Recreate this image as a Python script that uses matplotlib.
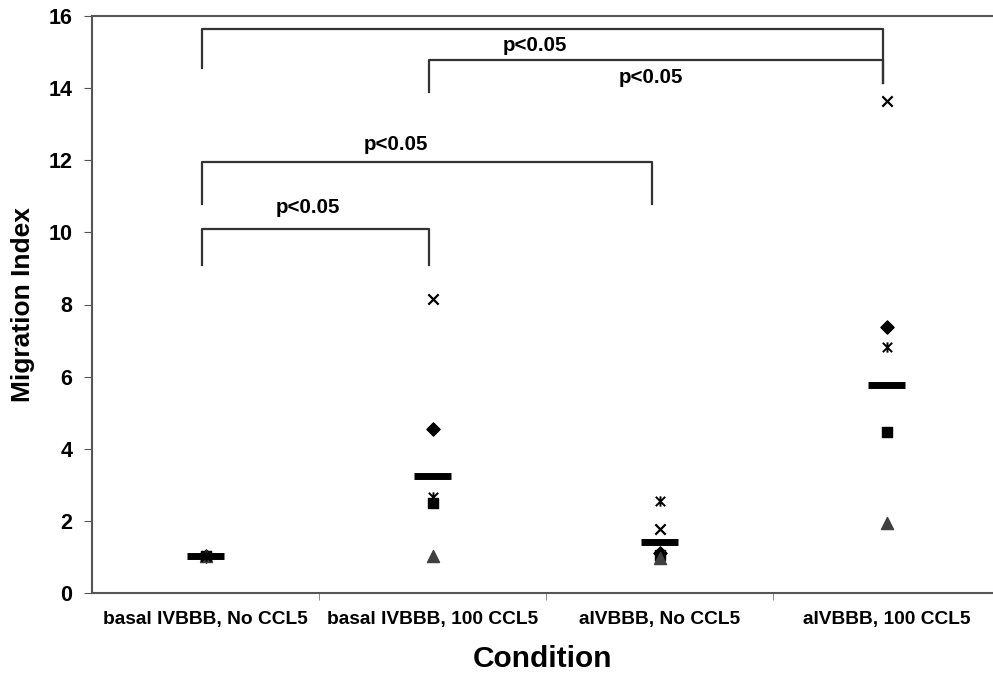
import matplotlib
matplotlib.use("Agg")
import matplotlib.pyplot as plt
from matplotlib.path import Path
import numpy as np

plt.rcParams['font.family'] = ['Liberation Sans', 'DejaVu Sans']

categories = ["basal IVBBB, No CCL5", "basal IVBBB, 100 CCL5", "aIVBBB, No CCL5", "aIVBBB, 100 CCL5"]
diamond = [1.02, 4.55, 1.12, 7.38]
square = [1.02, 2.50, 1.05, 4.47]
triangle = [1.02, 1.03, 0.98, 1.95]
xmark = [1.02, 8.15, 1.78, 13.65]
asterisk = [1.02, 2.65, 2.56, 6.82]
means = [1.02, 3.25, 1.42, 5.76]

# brackets: (left cat idx, right cat idx, top y, left leg bottom, right leg bottom)
brackets = [
    (1, 4, 15.65, 14.55, 14.15),
    (2, 4, 14.78, 13.90, 14.15),
    (1, 3, 11.95, 10.80, 10.80),
    (1, 2, 10.10, 9.10, 9.10),
]
labels_txt = ["p<0.05", "p<0.05", "p<0.05", "p<0.05"]
label_pos = [(2.45, 15.17), (2.96, 14.30), (1.84, 12.44), (1.45, 10.69)]

# Excel-like star marker: X plus vertical line
star = Path([(-1, -1), (1, 1), (-1, 1), (1, -1), (0, -1.1), (0, 1.1)],
            [Path.MOVETO, Path.LINETO, Path.MOVETO, Path.LINETO, Path.MOVETO, Path.LINETO])

fig = plt.figure(figsize=(9.93, 6.77), dpi=100)
ax = fig.add_axes([92/993, 1 - 593/677, 901/993, (593 - 16)/677])

x = np.arange(1, 5)
ax.scatter(x, diamond, marker='D', s=45, color='black', zorder=3)
ax.scatter(x, square, marker='s', s=55, color='black', zorder=3)
ax.scatter(x, triangle, marker='^', s=75, color='#404040', zorder=3)
ax.scatter(x, xmark, marker='x', s=55, color='black', linewidths=1.6, zorder=3)
ax.scatter(x, asterisk, marker=star, s=55, color='black', linewidths=1.4, zorder=3)
for xi, m in zip(x, means):
    ax.plot([xi - 0.08, xi + 0.08], [m, m], color='black', lw=5, solid_capstyle='butt', zorder=4)

bx = [0.985, 1.985, 2.965, 3.985]
for (l, r, top, lb, rb) in brackets:
    ax.plot([bx[l-1], bx[l-1], bx[r-1], bx[r-1]], [lb, top, top, rb], color='#333333', lw=1.6, zorder=2)
for t, (px, py) in zip(labels_txt, label_pos):
    ax.text(px, py, t, ha='center', va='center', fontsize=14.8, fontweight='bold')

ax.set_xlim(0.5, 0.5 + 901/227)
ax.set_ylim(0, 16)
ax.set_yticks(np.arange(0, 17, 2))
ax.set_xticks(x)
ax.set_xticklabels(categories, fontsize=13.8, fontweight='bold')
ax.set_xticks([1.5, 2.5, 3.5], minor=True)
ax.tick_params(axis='x', which='major', length=0, pad=13)
ax.tick_params(axis='x', which='minor', length=5, color='#777777')
ax.tick_params(axis='y', labelsize=15.5, length=6, color='#555555', pad=8)
for lab in ax.get_yticklabels():
    lab.set_fontweight('bold')
ax.set_ylabel("Migration Index", fontsize=19, fontweight='bold', labelpad=10)
ax.set_xlabel("Condition", fontsize=21.5, fontweight='bold', labelpad=12)
for s in ['left', 'top', 'bottom']:
    ax.spines[s].set_color('#555555')
    ax.spines[s].set_linewidth(1.5)
ax.spines['right'].set_visible(False)

fig.savefig("out.png", dpi=100)
